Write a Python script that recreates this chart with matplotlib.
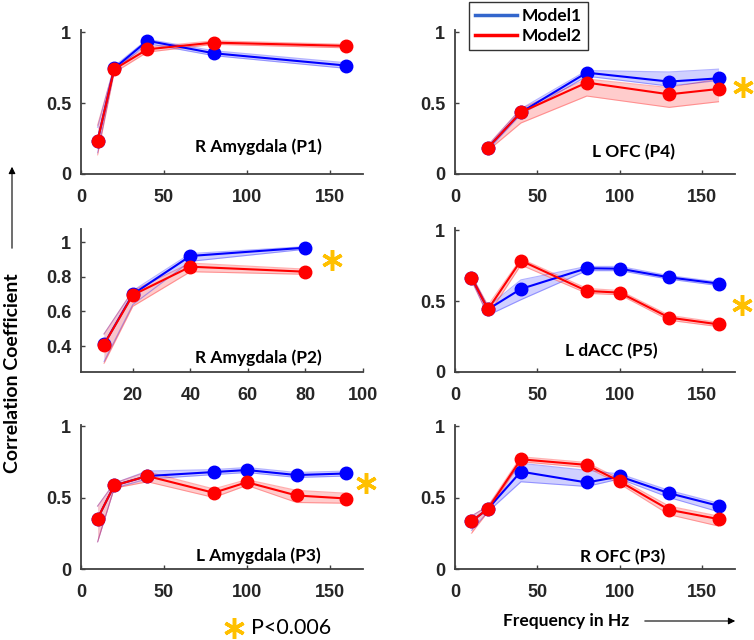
import matplotlib
matplotlib.use('Agg')
import matplotlib.pyplot as plt
from matplotlib.lines import Line2D

# frequencies (Hz)
f5 = [10, 20, 40, 80, 160]
f4 = [10, 20, 40, 80]
f7 = [10, 20, 40, 80, 100, 130, 160]
f5b = [20, 40, 80, 130, 160]

# R Amygdala (P1)
p1_m1 = [0.235, 0.745, 0.94, 0.852, 0.765]
p1_m1_lo = [0.15, 0.73, 0.92, 0.835, 0.745]
p1_m1_hi = [0.33, 0.76, 0.95, 0.87, 0.785]
p1_m2 = [0.235, 0.739, 0.88, 0.927, 0.904]
p1_m2_lo = [0.135, 0.715, 0.86, 0.915, 0.89]
p1_m2_hi = [0.345, 0.755, 0.895, 0.94, 0.915]

# R Amygdala (P2)
p2_m1 = [0.41, 0.70, 0.921, 0.969]
p2_m1_lo = [0.31, 0.64, 0.89, 0.96]
p2_m1_hi = [0.47, 0.72, 0.935, 0.975]
p2_m2 = [0.409, 0.695, 0.859, 0.83]
p2_m2_lo = [0.30, 0.63, 0.83, 0.815]
p2_m2_hi = [0.47, 0.72, 0.88, 0.845]

# L Amygdala (P3)
p3_m1 = [0.353, 0.584, 0.65, 0.678, 0.692, 0.657, 0.668]
p3_m1_lo = [0.19, 0.565, 0.63, 0.66, 0.675, 0.64, 0.65]
p3_m1_hi = [0.44, 0.60, 0.685, 0.695, 0.71, 0.675, 0.685]
p3_m2 = [0.353, 0.584, 0.65, 0.533, 0.607, 0.514, 0.493]
p3_m2_lo = [0.19, 0.565, 0.61, 0.50, 0.585, 0.465, 0.46]
p3_m2_hi = [0.44, 0.60, 0.68, 0.56, 0.625, 0.55, 0.53]

# L OFC (P4)
p4_m1 = [0.186, 0.435, 0.715, 0.652, 0.675]
p4_m1_lo = [0.17, 0.42, 0.69, 0.62, 0.66]
p4_m1_hi = [0.20, 0.46, 0.73, 0.72, 0.74]
p4_m2 = [0.186, 0.435, 0.645, 0.562, 0.60]
p4_m2_lo = [0.165, 0.36, 0.55, 0.47, 0.51]
p4_m2_hi = [0.205, 0.46, 0.67, 0.61, 0.67]

# L dACC (P5)
p5_m1 = [0.666, 0.442, 0.586, 0.732, 0.729, 0.668, 0.624]
p5_m1_lo = [0.65, 0.40, 0.51, 0.715, 0.715, 0.655, 0.61]
p5_m1_hi = [0.68, 0.46, 0.65, 0.745, 0.745, 0.68, 0.635]
p5_m2 = [0.666, 0.442, 0.786, 0.572, 0.56, 0.384, 0.336]
p5_m2_lo = [0.645, 0.40, 0.755, 0.555, 0.545, 0.365, 0.32]
p5_m2_hi = [0.685, 0.47, 0.80, 0.59, 0.575, 0.40, 0.35]

# R OFC (P3)
p6_m1 = [0.333, 0.421, 0.681, 0.605, 0.647, 0.53, 0.442]
p6_m1_lo = [0.27, 0.40, 0.61, 0.577, 0.63, 0.50, 0.40]
p6_m1_hi = [0.37, 0.44, 0.74, 0.69, 0.665, 0.55, 0.46]
p6_m2 = [0.333, 0.421, 0.767, 0.728, 0.612, 0.414, 0.349]
p6_m2_lo = [0.25, 0.40, 0.75, 0.71, 0.595, 0.38, 0.30]
p6_m2_hi = [0.37, 0.44, 0.785, 0.745, 0.63, 0.44, 0.37]

W, H = 754, 640
fig = plt.figure(figsize=(W / 100, H / 100), dpi=100)

def px_axes(l, r, t, b):
    return fig.add_axes([l / W, 1 - b / H, (r - l) / W, (b - t) / H])

BLUE = '#0000ff'
RED = '#ff0000'
TXT = 'Lato'

def panel(ax, x, m1, m1lo, m1hi, m2, m2lo, m2hi, title, tx, ty,
          xlim=(0, 170), ylim=(0, 1.016), xt=(0, 50, 100, 150), yt=(0, 0.5, 1)):
    for y, lo, hi, c, fc in ((m1, m1lo, m1hi, BLUE, '#c8c8ff'),
                              (m2, m2lo, m2hi, RED, '#ffc4c4')):
        ax.fill_between(x, lo, hi, color=fc, alpha=0.85, lw=0)
        ax.plot(x, lo, color=c, alpha=0.3, lw=0.8)
        ax.plot(x, hi, color=c, alpha=0.3, lw=0.8)
    ax.plot(x, m1, '-o', color=BLUE, lw=1.5, ms=9)
    ax.plot(x, m2, '-o', color=RED, lw=1.5, ms=9)
    ax.set_xlim(*xlim)
    ax.set_ylim(*ylim)
    ax.set_xticks(xt)
    ax.set_yticks(yt)
    ax.set_xticklabels([('%g' % v) for v in xt])
    ax.set_yticklabels([('%g' % v) for v in yt])
    for s in ('top', 'right'):
        ax.spines[s].set_visible(False)
    for s in ('left', 'bottom'):
        ax.spines[s].set_color('#404040')
        ax.spines[s].set_linewidth(1.3)
    ax.tick_params(direction='in', length=3, width=1, color='#404040',
                   labelcolor='#262626')
    ax.tick_params(axis='x', pad=11)
    ax.tick_params(axis='y', pad=7)
    for lab in ax.get_xticklabels() + ax.get_yticklabels():
        lab.set_fontfamily('Liberation Sans')
        lab.set_fontweight('bold')
        lab.set_fontsize(13)
    ax.text(tx, ty, title, transform=ax.transAxes, ha='center', va='center',
            fontfamily=TXT, fontweight='bold', fontsize=12.5, color='black')

ax1 = px_axes(81, 363, 30, 174)
panel(ax1, f5, p1_m1, p1_m1_lo, p1_m1_hi, p1_m2, p1_m2_lo, p1_m2_hi,
      'R Amygdala (P1)', 0.63, 0.19)
ax4 = px_axes(455, 735, 30, 174)
panel(ax4, f5b, p4_m1, p4_m1_lo, p4_m1_hi, p4_m2, p4_m2_lo, p4_m2_hi,
      'L OFC (P4)', 0.636, 0.15)
ax2 = px_axes(81, 363, 229, 372)
panel(ax2, f4, p2_m1, p2_m1_lo, p2_m1_hi, p2_m2, p2_m2_lo, p2_m2_hi,
      'R Amygdala (P2)', 0.63, 0.10, xlim=(2, 100), ylim=(0.25, 1.077),
      xt=(20, 40, 60, 80, 100), yt=(0.4, 0.6, 0.8, 1))
ax5 = px_axes(455, 735, 228, 372)
panel(ax5, f7, p5_m1, p5_m1_lo, p5_m1_hi, p5_m2, p5_m2_lo, p5_m2_hi,
      'L dACC (P5)', 0.56, 0.146)
ax3 = px_axes(81, 363, 425, 569)
panel(ax3, f7, p3_m1, p3_m1_lo, p3_m1_hi, p3_m2, p3_m2_lo, p3_m2_hi,
      'L Amygdala (P3)', 0.63, 0.09, ylim=(0, 1.007))
ax6 = px_axes(455, 735, 425, 569)
panel(ax6, f7, p6_m1, p6_m1_lo, p6_m1_hi, p6_m2, p6_m2_lo, p6_m2_hi,
      'R OFC (P3)', 0.60, 0.08, ylim=(0, 1.007))

# significance asterisks
STAR = '#ffc000'
for sx, sy in [(743, 87), (332, 260), (742, 305), (366, 483), (234, 628)]:
    fig.add_artist(Line2D([sx / W], [1 - sy / H], transform=fig.transFigure,
                          marker=(6, 2, 0), ms=15, mew=2.5, color=STAR))
fig.text(251 / W, 1 - 628 / H, 'P<0.006', ha='left', va='center',
         fontfamily=TXT, fontsize=15.5, color='black')

# legend
handles = [Line2D([], [], color='#3366cc', lw=2.5), Line2D([], [], color=RED, lw=2.5)]
leg = fig.legend(handles, ['Model1', 'Model2'], loc='upper left',
                 bbox_to_anchor=(469 / W, 1 - 2 / H), frameon=True, fancybox=False,
                 edgecolor='black', handlelength=2.4, borderpad=0.35, labelspacing=0.25,
                 handletextpad=0.3, borderaxespad=0, handleheight=0.8,
                 prop={'family': TXT, 'weight': 'bold', 'size': 12.5})
leg.get_frame().set_linewidth(1.0)

# axis labels with arrows
fig.text(13 / W, 1 - 373 / H, 'Correlation Coefficient', rotation=90,
         ha='center', va='center', fontfamily=TXT, fontweight='bold', fontsize=14)
fig.text(503 / W, 1 - 621 / H, 'Frequency in Hz', ha='left', va='center',
         fontfamily=TXT, fontweight='bold', fontsize=12.5)
fig.add_artist(matplotlib.patches.FancyArrowPatch(
    (12 / W, 1 - 251 / H), (12 / W, 1 - 164 / H), transform=fig.transFigure,
    arrowstyle='-|>,head_length=4,head_width=2', lw=0.8, color='black'))
fig.add_artist(matplotlib.patches.FancyArrowPatch(
    (642 / W, 1 - 621 / H), (738 / W, 1 - 621 / H), transform=fig.transFigure,
    arrowstyle='-|>,head_length=4,head_width=2', lw=0.8, color='black'))

fig.savefig('out.png', dpi=100)
